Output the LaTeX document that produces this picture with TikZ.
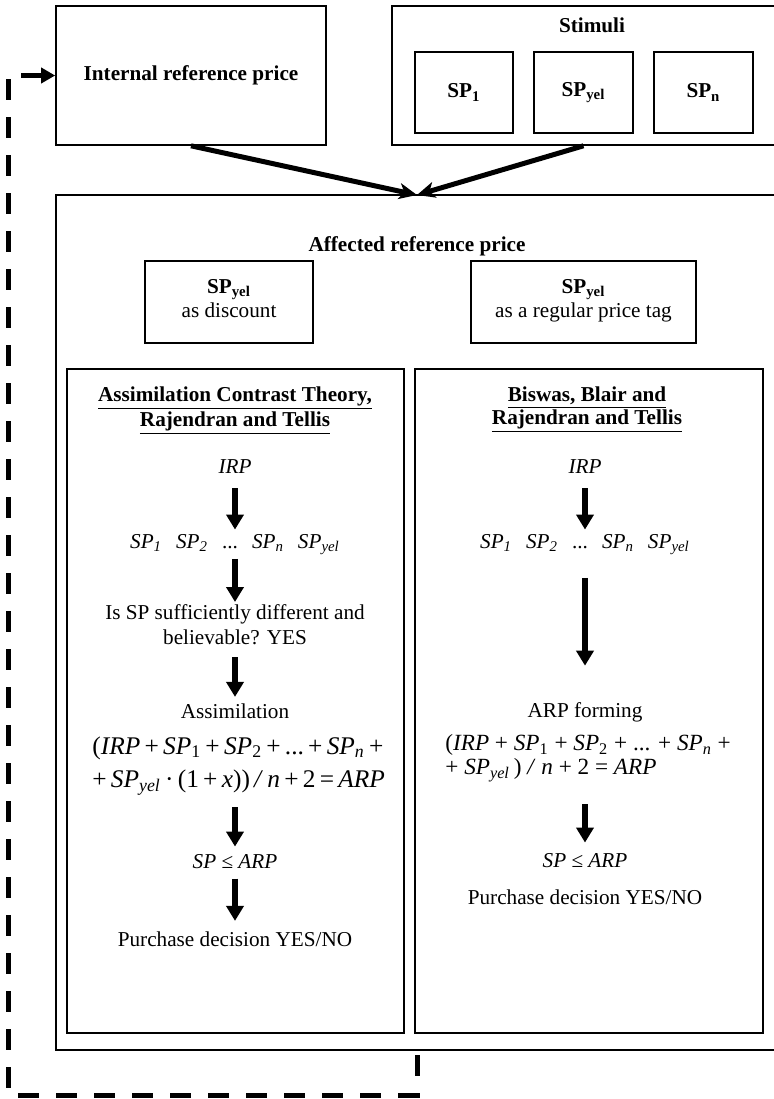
\documentclass[tikz,border=0pt]{standalone}
\usepackage{fontspec}
\setmainfont{Liberation Serif}
\usetikzlibrary{arrows.meta,positioning}

\newcommand{\mi}[1]{\textit{#1}}

\begin{document}
\begin{tikzpicture}[x=0.5pt,y=-0.5pt,
    box/.style={draw, line width=0.8pt, inner sep=0pt},
    txt/.style={inner sep=0pt, font=\fontsize{10.6}{12.5}\selectfont},
    boldtxt/.style={inner sep=0pt, font=\fontsize{10.6}{12}\selectfont\bfseries},
    head/.style={inner sep=0pt, font=\fontsize{10.6}{11.5}\selectfont\bfseries, align=center, anchor=north},
    down/.style={line width=3pt, -{Triangle[length=7.5pt,width=8.5pt]}},
    merge/.style={line width=2.5pt, -{Stealth[length=9pt,width=8pt,inset=2.5pt]}},
    feedback/.style={line width=2.5pt, dash pattern=on 10.5pt off 8.5pt, arrows={Triangle[length=7pt,width=7.5pt]-}}]
\useasboundingbox (0,0) rectangle (774,1099);

% top row
\node[box, minimum width=135pt, minimum height=69.5pt, font=\fontsize{10.6}{12}\selectfont\bfseries] (irp) at (191,75.5) {Internal reference price};
\node[box, minimum width=199pt, minimum height=69.5pt] (stim) at (591,75.5) {};
\node[boldtxt, anchor=base] (stimlbl) at (592,32) {Stimuli};
\node[box, minimum width=49pt, minimum height=40.5pt, font=\fontsize{10.6}{12}\selectfont\bfseries] (sp1) at (464,92.5) {SP\textsubscript{1}};
\node[box, minimum width=49.5pt, minimum height=40.5pt, font=\fontsize{10.6}{12}\selectfont\bfseries] (spy) at (583.5,92.5) {SP\textsubscript{yel}};
\node[box, minimum width=49.5pt, minimum height=40.5pt, font=\fontsize{10.6}{12}\selectfont\bfseries] (spn) at (703.5,92.5) {SP\textsubscript{n}};

% affected reference price
\node[box, minimum width=367pt, minimum height=427.5pt] (arp) at (423,622.5) {};
\node[boldtxt, anchor=base] (arplbl) at (417,251) {Affected reference price};
\coordinate (meet) at (417,195);
\draw[merge] (irp.south) -- (meet);
\draw[merge] (spy |- stim.south) -- (meet);

\node[box, minimum width=84pt, minimum height=41pt, align=center, font=\fontsize{10.6}{12}\selectfont] (disc) at (229,302) {\textbf{SP\textsubscript{yel}}\\as discount\strut};
\node[box, minimum width=112.5pt, minimum height=41pt, align=center, font=\fontsize{10.6}{12}\selectfont] (tag) at (583.5,302) {\textbf{SP\textsubscript{yel}}\\as a regular price tag\strut};

% left column
\node[box, line width=1pt, minimum width=168.5pt, minimum height=332pt] (act) at (235.5,701) {};
\node[head] (lhead) at (235,386) {\underline{Assimilation Contrast Theory,}\\\underline{Rajendran and Tellis}};
\node[txt, anchor=base] (lirp) at (235,473) {\mi{IRP}};
\node[txt, anchor=base] (lsp) at (235,548) {\mi{SP\textsubscript{1}}\hspace{7pt}\mi{SP\textsubscript{2}}\hspace{7pt}...\hspace{7pt}\mi{SP\textsubscript{n}}\hspace{7pt}\mi{SP\textsubscript{yel}}};
\node[txt, align=center, anchor=north] (lq) at (235,604) {Is SP sufficiently different and\\believable? YES};
\node[txt, anchor=base] (lass) at (235,718) {Assimilation};
\node[txt, font=\fontsize{12.7}{16.5}\selectfont, align=left, anchor=north west] (lform) at (92,736)
  {(\mi{IRP}\,+\,\mi{SP}\textsubscript{1}\,+\,\mi{SP}\textsubscript{2}\,+\,...\,+\,\mi{SP}\textsubscript{\mi{n}}\,+\\
   +\,\mi{SP}\textsubscript{\mi{yel}}\,·\,(1\,+\,\mi{x}))\,\mi{/}\,\mi{n}\,+\,2\,=\,\mi{ARP}};
\node[txt, anchor=base] (lcmp) at (235,868) {\mi{SP} ≤ \mi{ARP}};
\node[txt, anchor=base] (ldec) at (235,946) {Purchase decision YES/NO};

\draw[down, shorten <=7.5pt, shorten >=2pt] (lirp) -- (lsp);
\draw[down, shorten <=2pt, shorten >=1pt] (lsp) -- (lq);
\draw[down, shorten <=6pt, shorten >=3pt] (lq) -- (lass);
\draw[down, shorten <=6pt, shorten >=3.5pt] (lcmp |- lform.south) -- (lcmp);
\draw[down, shorten <=5pt, shorten >=5pt] (lcmp) -- (ldec);

% right column
\node[box, line width=1pt, minimum width=174pt, minimum height=332pt] (bbr) at (589,701) {};
\node[head] (rhead) at (587,386) {\underline{Biswas, Blair and}\\\underline{Rajendran and Tellis}};
\node[txt, anchor=base] (rirp) at (585,473) {\mi{IRP}};
\node[txt, anchor=base] (rsp) at (585,548) {\mi{SP\textsubscript{1}}\hspace{7pt}\mi{SP\textsubscript{2}}\hspace{7pt}...\hspace{7pt}\mi{SP\textsubscript{n}}\hspace{7pt}\mi{SP\textsubscript{yel}}};
\node[txt, anchor=base] (rarp) at (585,717) {ARP forming};
\node[txt, font=\fontsize{11.6}{12}\selectfont, align=left, anchor=north west] (rform) at (445,734)
  {(\mi{IRP} + \mi{SP}\textsubscript{1} + \mi{SP}\textsubscript{2} + ... + \mi{SP}\textsubscript{\mi{n}} +\\
   + \mi{SP}\textsubscript{\mi{yel}}\,) \mi{/} \mi{n} + 2 = \mi{ARP}};
\node[txt, anchor=base] (rcmp) at (585,867) {\mi{SP} ≤ \mi{ARP}};
\node[txt, anchor=base] (rdec) at (585,904) {Purchase decision YES/NO};

\draw[down, shorten <=7.5pt, shorten >=2pt] (rirp) -- (rsp);
\draw[down, shorten <=11.5pt, shorten >=18pt] (rsp) -- (rarp);
\draw[down, shorten <=11pt, shorten >=5pt] (rcmp |- rform.south) -- (rcmp);

% feedback loop
\coordinate (looptop) at (8,75.5);
\coordinate (loopbot) at (8,1095);
\draw[feedback] (irp.west) -- (looptop) -- (loopbot) -| (meet |- arp.south);
\end{tikzpicture}
\end{document}
